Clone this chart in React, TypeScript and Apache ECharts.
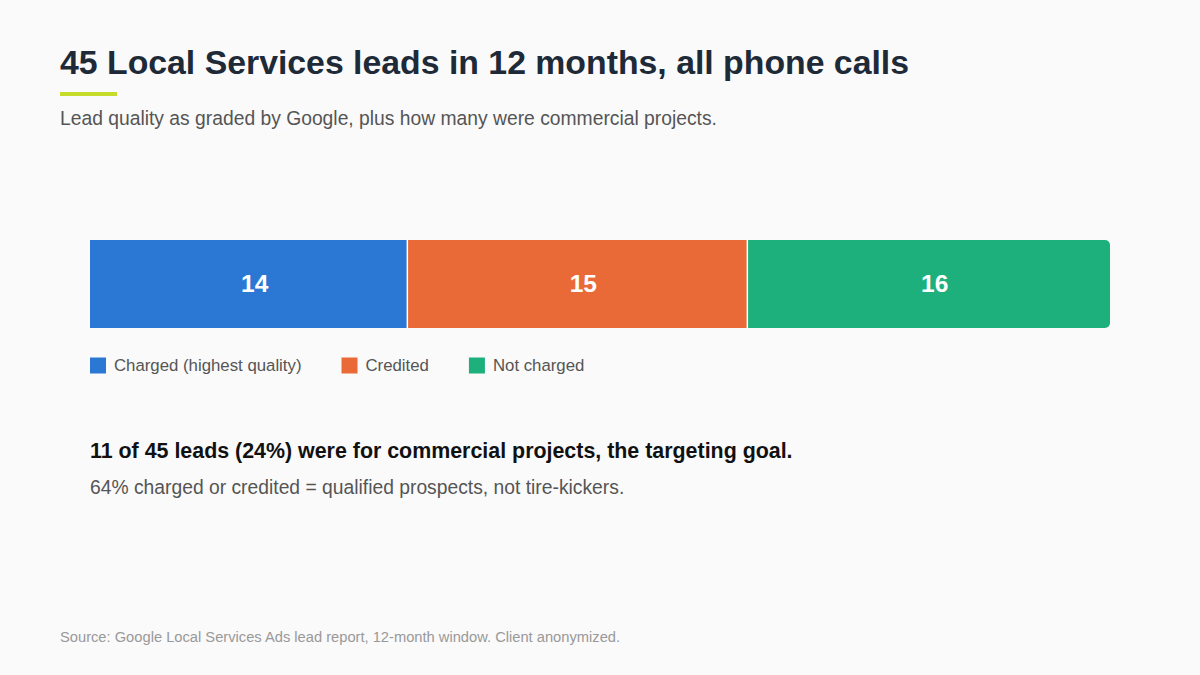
import React, { useEffect, useRef } from "react";
import * as echarts from "echarts";

const categories = ["Leads"];
const seriesNames = ["Charged (highest quality)", "Credited", "Not charged"];
const seriesValues = [14, 15, 16];
const seriesColors = ["#2b78d4", "#ea6a37", "#1db07c"];
const totalLeads = 45;

const titleText = "45 Local Services leads in 12 months, all phone calls";
const subtitleText = "Lead quality as graded by Google, plus how many were commercial projects.";
const noteBold = "11 of 45 leads (24%) were for commercial projects, the targeting goal.";
const noteText = "64% charged or credited = qualified prospects, not tire-kickers.";
const sourceText = "Source: Google Local Services Ads lead report, 12-month window. Client anonymized.";

const FONT = "'Liberation Sans', Arial, Helvetica, sans-serif";

export default function App() {
  const ref = useRef<HTMLDivElement>(null);
  useEffect(() => {
    if (!ref.current) return;
    const chart = echarts.init(ref.current, undefined, { renderer: "svg" });
    const last = seriesValues.length - 1;
    chart.setOption({
      animation: false,
      backgroundColor: "#fafafa",
      textStyle: { fontFamily: FONT },
      grid: { left: 90, right: 90, top: 240, height: 88 },
      xAxis: { type: "value", min: 0, max: totalLeads, show: false },
      yAxis: { type: "category", data: categories, show: false },
      legend: {
        left: 90,
        top: 357,
        padding: 0,
        itemWidth: 16,
        itemHeight: 16,
        itemGap: 40,
        icon: "rect",
        textStyle: { fontSize: 16.8, color: "#555555", fontFamily: FONT, padding: [0, 0, 0, 3] },
        data: seriesNames,
      },
      series: seriesValues.map((v, i) => ({
        name: seriesNames[i],
        type: "bar",
        stack: "total",
        barWidth: 88,
        data: [v],
        itemStyle: {
          color: seriesColors[i],
          borderRadius: i === last ? [0, 5, 5, 0] : 0,
        },
        label: {
          show: true,
          position: "inside",
          offset: [6, -1],
          color: "#ffffff",
          fontWeight: "bold",
          fontSize: 24.5,
          fontFamily: FONT,
        },
      })),
      graphic: [
        {
          type: "text",
          left: 60,
          top: 45,
          style: { text: titleText, font: `bold 33.8px ${FONT}`, fill: "#1e2a38" },
        },
        {
          type: "rect",
          shape: { x: 60, y: 92, width: 57, height: 4 },
          style: { fill: "#c5dc2a" },
        },
        {
          type: "text",
          left: 60,
          top: 109,
          style: { text: subtitleText, font: `19.3px ${FONT}`, fill: "#555555" },
        },
        {
          type: "text",
          left: 90,
          top: 440,
          style: { text: noteBold, font: `bold 21.4px ${FONT}`, fill: "#111111" },
        },
        {
          type: "text",
          left: 90,
          top: 478,
          style: { text: noteText, font: `19.3px ${FONT}`, fill: "#555555" },
        },
        {
          type: "text",
          left: 60,
          top: 629,
          style: { text: sourceText, font: `14.7px ${FONT}`, fill: "#999999" },
        },
        ...seriesValues.slice(0, last).map((_, i) => {
          const cum = seriesValues.slice(0, i + 1).reduce((a, b) => a + b, 0);
          const x = 90 + (cum / totalLeads) * 1020;
          return {
            type: "line",
            z: 100,
            shape: { x1: x, y1: 240, x2: x, y2: 328 },
            style: { stroke: "#ffffff", lineWidth: 1.5 },
          };
        }),
      ],
    });
    return () => chart.dispose();
  }, []);
  return (
    <div
      ref={ref}
      style={{ position: "absolute", left: 0, top: 0, width: 1200, height: 675 }}
    />
  );
}
